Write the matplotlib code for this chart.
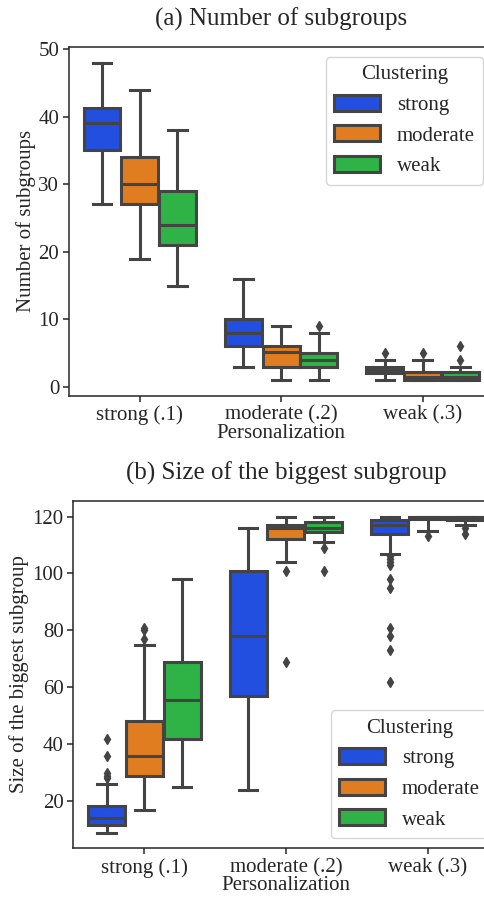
import colorsys
import matplotlib
matplotlib.use("Agg")
import matplotlib.pyplot as plt
from matplotlib.patches import Patch
import matplotlib.colors as mcolors

plt.rcParams['font.family'] = ['Liberation Serif', 'DejaVu Serif']
plt.rcParams['text.color'] = '.15'
plt.rcParams['axes.labelcolor'] = '.15'
plt.rcParams['xtick.color'] = '.15'
plt.rcParams['ytick.color'] = '.15'

# --- data ---
personalization = ['strong (.1)', 'moderate (.2)', 'weak (.3)']
clustering = ['strong', 'moderate', 'weak']

# (a) number of subgroups, one list per clustering level
a_whislo = {'strong': [27, 3, 1], 'moderate': [19, 1, 1], 'weak': [15, 1, 1]}
a_q1 = {'strong': [35, 6, 2], 'moderate': [27, 3, 1], 'weak': [21, 3, 1]}
a_med = {'strong': [39, 8, 2.5], 'moderate': [30, 5.2, 1.5], 'weak': [24, 4, 1.5]}
a_q3 = {'strong': [41.3, 10, 3], 'moderate': [34, 6, 2.2], 'weak': [29, 5, 2.2]}
a_whishi = {'strong': [48, 16, 4], 'moderate': [44, 9, 4], 'weak': [38, 8, 3]}
a_fliers = {'strong': [[], [], [5]], 'moderate': [[], [], [5]], 'weak': [[], [9], [4, 6]]}

# (b) size of the biggest subgroup
b_whislo = {'strong': [9, 24, 107], 'moderate': [17, 104, 115], 'weak': [25, 111, 117]}
b_q1 = {'strong': [11.6, 57, 114], 'moderate': [29, 112, 119], 'weak': [42, 114.5, 118.7]}
b_med = {'strong': [14, 78, 117], 'moderate': [36, 116, 120], 'weak': [55.5, 116, 120]}
b_q3 = {'strong': [18.3, 101, 118.7], 'moderate': [48, 117, 120], 'weak': [69, 118.2, 120]}
b_whishi = {'strong': [26, 116, 120], 'moderate': [75, 120, 120], 'weak': [98, 120, 120]}
b_fliers = {'strong': [[28, 29, 30, 36, 42], [], [62, 73, 78, 81, 95, 98, 103, 104, 105, 106]],
            'moderate': [[77, 80, 81], [69, 101], [113]],
            'weak': [[], [101, 109], [114, 116]]}

bright = ['#023eff', '#ff7c00', '#1ac938']


# desaturate like seaborn boxplot does (saturation=.75)
def desat(c, prop=0.75):
    r, g, b = mcolors.to_rgb(c)
    h, l, s = colorsys.rgb_to_hls(r, g, b)
    return colorsys.hls_to_rgb(h, l, s * prop)


colors = [desat(c) for c in bright]
gray = '#444444'
lw = 2.2
fs = 15


def draw_panel(ax, whislo, q1, med, q3, whishi, fliers):
    width = 0.8 / 3
    for j, cl in enumerate(clustering):
        stats = []
        for i in range(len(personalization)):
            stats.append(dict(whislo=whislo[cl][i], q1=q1[cl][i], med=med[cl][i],
                              q3=q3[cl][i], whishi=whishi[cl][i], fliers=fliers[cl][i]))
        pos = [i + (j - 1) * width for i in range(len(personalization))]
        ax.bxp(stats, positions=pos, widths=width * 0.98, patch_artist=True,
               manage_ticks=False,
               boxprops=dict(facecolor=colors[j], edgecolor=gray, linewidth=lw),
               medianprops=dict(color=gray, linewidth=lw),
               whiskerprops=dict(color=gray, linewidth=lw),
               capprops=dict(color=gray, linewidth=lw),
               flierprops=dict(marker='d', markerfacecolor=gray, markeredgecolor=gray,
                               markersize=5.5))
    ax.set_xticks(range(len(personalization)))
    ax.set_xticklabels(personalization)
    ax.set_xlim(-0.5, 2.5)
    ax.set_xlabel('Personalization', fontsize=fs, labelpad=-1)
    ax.tick_params(labelsize=fs, length=4, width=1.1, pad=3)
    for sp in ax.spines.values():
        sp.set_color('.15')
        sp.set_linewidth(1.1)
    ax.spines['right'].set_visible(False)


fig = plt.figure(figsize=(4.85, 8.99), dpi=100)

ax1 = fig.add_axes([69 / 485, 1 - 396 / 899, (493.4 - 69) / 485, (396 - 46.7) / 899])
draw_panel(ax1, a_whislo, a_q1, a_med, a_q3, a_whishi, a_fliers)
ax1.set_ylim(-1.35, 50.35)
ax1.set_yticks([0, 10, 20, 30, 40, 50])
ax1.set_ylabel('Number of subgroups', fontsize=fs, labelpad=1.5)
ax1.set_title('(a) Number of subgroups', fontsize=18, pad=15)

ax2 = fig.add_axes([73.5 / 485, 1 - 848.3 / 899, (498.4 - 73.5) / 485, (848.3 - 500.7) / 899])
draw_panel(ax2, b_whislo, b_q1, b_med, b_q3, b_whishi, b_fliers)
ax2.set_ylim(3.45, 125.55)
ax2.set_yticks([20, 40, 60, 80, 100, 120])
ax2.set_ylabel('Size of the biggest subgroup', fontsize=fs, labelpad=2.5)
ax2.set_title('(b) Size of the biggest subgroup', fontsize=18, pad=15)

handles = [Patch(facecolor=colors[j], edgecolor=gray, linewidth=lw, label=cl)
           for j, cl in enumerate(clustering)]
for ax, loc in [(ax1, 'upper right'), (ax2, 'lower right')]:
    leg = ax.legend(handles=handles, title='Clustering', loc=loc, fontsize=fs,
                    title_fontsize=fs, edgecolor='0.8', handlelength=2.2,
                    handleheight=0.8, labelspacing=0.5)

fig.savefig('out.png', dpi=100)
